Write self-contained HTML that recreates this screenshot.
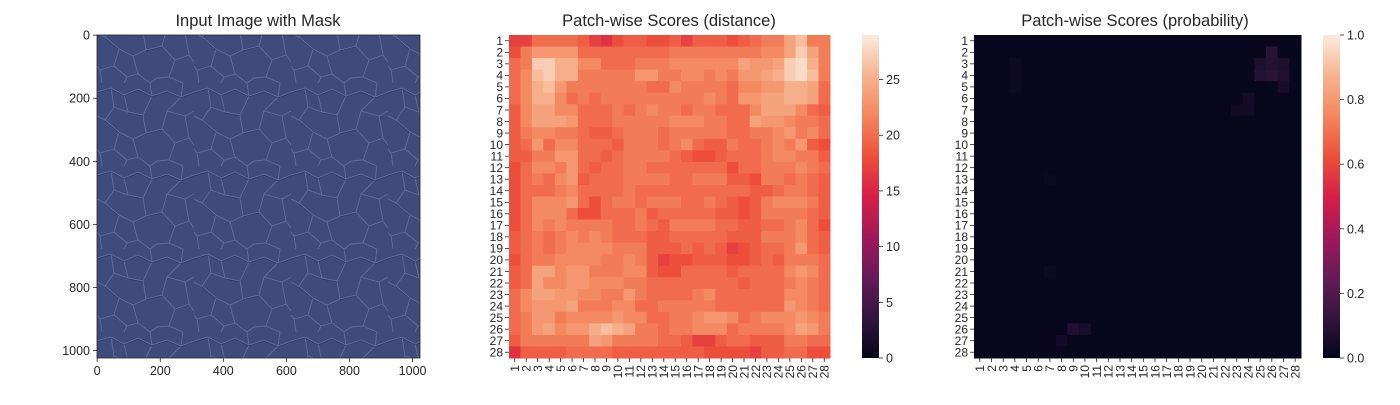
<!DOCTYPE html>
<html><head><meta charset="utf-8"><style>
body{margin:0;background:#fff;}
svg{font-family:"Liberation Sans",Arial,sans-serif;}
</style></head><body>
<svg id="c" width="1400" height="400" viewBox="0 0 1400 400">
<defs>
<pattern id="leather" width="97" height="83" patternUnits="userSpaceOnUse">
<rect width="97" height="83" fill="#3f4b7a"/>
<path d="M0 9 L14 5 L27 12 L41 6 L55 13 L70 8 L84 14 L97 9 M14 5 L17 24 L8 37 L0 33 M27 12 L31 29 L17 24 M31 29 L46 32 L55 13 M46 32 L49 50 L36 56 L22 49 L8 37 M22 49 L17 66 L3 70 L0 66 M36 56 L41 74 L53 83 M49 50 L65 46 L70 28 L84 14 M70 28 L88 33 L97 28 M65 46 L78 60 L92 55 L88 33 M78 60 L72 77 L60 78 L53 83 M92 55 L97 62 M17 66 L30 77 L41 74 M72 77 L86 83 M30 77 L27 83 M3 70 L5 83 M53 0 L55 13 M86 0 L84 14" stroke="#7886bb" stroke-width="0.9" fill="none" opacity="0.55"/>
<path d="M0 10 L14 6 L27 13 L41 7 L55 14 L70 9 L84 15 L97 10 M31 30 L46 33 M49 51 L65 47 M22 50 L8 38" stroke="#27304f" stroke-width="0.7" fill="none" opacity="0.55"/>
</pattern>
<linearGradient id="cb1" x1="0" y1="1" x2="0" y2="0"></linearGradient>
<linearGradient id="cb2" x1="0" y1="1" x2="0" y2="0"></linearGradient>
</defs>
<g id="p1">
<text x="258" y="26" text-anchor="middle" font-size="16.5" fill="#262626">Input Image with Mask</text>
<rect x="97" y="35" width="323" height="323" fill="url(#leather)"/>
<rect x="97" y="35" width="323" height="323" fill="none" stroke="#262626" stroke-width="0.8"/>
</g>
<g id="p2">
<text x="669" y="26" text-anchor="middle" font-size="16.5" fill="#262626">Patch-wise Scores (distance)</text>
</g>
<g id="p3">
<text x="1135" y="26" text-anchor="middle" font-size="16.5" fill="#262626">Patch-wise Scores (probability)</text>
</g>
</svg>
<script>
const imgTicks=[0,200,400,600,800,1000];
const imgExtent=1024;
const distCbTicks=[0,5,10,15,20,25];
const distVmax=29;
const probCbTicks=[0,0.2,0.4,0.6,0.8,1.0];
const distRows=[
[17,17,20,20,20,20,19,17,16,18,19,19,18,18,19,17,19,19,19,18,19,20,21,21,24,26,21,21],
[18,21,23,23,23,23,20,20,20,20,20,20,20,20,21,21,21,21,21,21,21,21,22,22,24,27,24,21],
[20,21,27,27,25,25,22,22,20,20,20,21,21,21,22,22,22,22,22,22,24,23,23,24,27,28,25,21],
[20,22,26,27,25,25,21,21,21,21,21,23,23,21,21,22,22,21,22,21,23,23,24,25,27,28,26,21],
[20,22,25,26,23,21,21,21,21,21,21,21,20,20,22,21,21,21,21,20,22,22,23,23,25,25,24,20],
[20,22,25,25,22,20,21,20,21,21,21,21,21,21,21,21,21,22,21,20,23,23,24,24,25,25,24,20],
[19,22,24,24,22,22,20,20,20,21,20,21,22,21,21,20,21,21,20,20,20,22,24,24,24,22,20,19],
[19,22,24,24,24,23,20,20,20,21,21,21,21,21,22,22,22,21,21,20,20,24,23,23,22,21,21,20],
[19,21,22,22,21,21,20,19,19,20,21,21,21,20,21,21,21,21,21,20,20,21,21,22,23,21,22,20],
[19,20,23,20,22,22,20,20,20,19,21,21,21,20,21,22,20,19,19,21,20,20,21,22,21,23,19,18],
[19,19,21,21,23,23,20,20,19,20,21,21,21,21,20,19,18,18,19,20,20,20,21,22,22,21,21,19],
[18,20,22,22,21,23,20,19,20,20,21,21,20,20,20,20,20,20,20,18,20,20,21,21,21,22,21,20],
[18,20,21,20,22,23,19,20,20,20,21,21,21,21,20,20,21,21,21,19,19,18,21,21,20,21,20,19],
[18,20,20,20,21,22,20,20,20,20,21,20,20,20,20,20,20,20,20,20,20,19,19,20,21,21,20,19],
[18,20,22,22,22,23,20,18,20,21,21,20,21,21,21,20,20,21,20,19,18,19,21,22,22,22,21,19],
[18,20,22,22,22,20,18,18,20,20,20,21,19,20,20,20,20,20,19,19,18,19,21,21,21,21,20,19],
[18,20,22,21,22,21,21,21,21,20,20,21,20,19,21,21,21,21,20,20,19,19,20,20,21,22,20,18],
[19,20,21,20,21,22,21,22,21,20,20,20,19,19,20,20,20,20,20,19,19,19,21,21,21,22,20,19],
[19,20,21,20,21,22,22,22,22,21,21,21,19,19,19,20,19,20,19,17,18,19,20,20,21,23,20,19],
[18,20,21,21,22,22,22,22,21,21,22,21,19,17,18,18,19,19,19,18,18,19,20,19,21,21,21,20],
[19,20,24,24,22,23,23,21,21,21,22,22,19,18,18,20,20,20,20,19,20,20,20,20,22,23,22,20],
[19,20,24,22,22,23,23,22,22,22,21,21,20,20,20,20,20,20,20,20,19,20,20,20,21,22,21,20],
[20,22,24,24,23,23,22,22,21,21,23,21,20,20,20,20,21,22,20,20,20,20,20,20,22,22,21,20],
[20,22,23,23,23,24,21,21,21,22,22,20,20,21,21,21,21,21,20,20,20,20,20,20,23,22,21,20],
[20,21,23,23,21,22,22,22,22,23,22,22,20,20,21,21,22,23,23,22,20,21,22,22,22,23,22,21],
[20,21,23,24,22,23,23,25,26,25,24,21,21,20,21,21,22,22,22,20,21,21,21,21,22,24,23,21],
[19,21,21,21,21,21,21,24,23,21,21,21,21,20,20,19,17,17,19,20,20,19,19,19,21,21,20,20],
[16,19,19,19,19,20,20,20,20,19,19,19,19,19,19,19,19,18,18,18,18,17,19,19,20,20,18,18]];
const probBase=0.012;
const probHotRows=[2,3,3,3,4,4,4,5,6,7,7,3,4,5,26,26,27,13,21];
const probHotCols=[26,25,26,27,25,26,27,27,24,24,23,4,4,4,9,10,8,7,7];
const probHotVals=[0.10,0.07,0.09,0.07,0.09,0.10,0.08,0.06,0.045,0.04,0.04,0.03,0.03,0.03,0.08,0.06,0.04,0.025,0.03];
const labels=Array.from({length:28},(_,i)=>String(i+1));

const NS='http://www.w3.org/2000/svg';
const svg=document.getElementById('c');
function mk(tag,attrs,parent){const e=document.createElementNS(NS,tag);for(const k in attrs)e.setAttribute(k,attrs[k]);(parent||svg).appendChild(e);return e;}
const stops=[[0,3,5,26],[0.125,50,22,62],[0.25,102,27,88],[0.375,161,24,90],[0.5,214,31,71],[0.625,238,80,60],[0.75,244,135,95],[0.875,246,180,143],[1,250,235,221]];
function rocket(t){t=Math.max(0,Math.min(1,t));for(let i=1;i<stops.length;i++){if(t<=stops[i][0]){const a=stops[i-1],b=stops[i],f=(t-a[0])/(b[0]-a[0]);return `rgb(${Math.round(a[1]+f*(b[1]-a[1]))},${Math.round(a[2]+f*(b[2]-a[2]))},${Math.round(a[3]+f*(b[3]-a[3]))})`;}}return 'rgb(250,235,221)';}
['cb1','cb2'].forEach(id=>{const g=document.getElementById(id);stops.forEach(s=>{mk('stop',{offset:s[0],'stop-color':rocket(s[0])},g);});});

const p1=document.getElementById('p1');
const ix0=97,iy0=35,isz=323;
const iscale=v=>(v+0.5)/imgExtent*isz;
imgTicks.forEach(v=>{
  const x=ix0+iscale(v),y=iy0+iscale(v);
  let t=mk('line',{x1:x,y1:iy0+isz,x2:x,y2:iy0+isz+4,stroke:'#262626','stroke-width':0.8},p1);
  
  let l=mk('text',{x:x,y:iy0+isz+17,'text-anchor':'middle','font-size':12.5,fill:'#262626'},p1);l.textContent=v;
  
  t=mk('line',{x1:ix0-4,y1:y,x2:ix0,y2:y,stroke:'#262626','stroke-width':0.8},p1);
  
  l=mk('text',{x:ix0-7,y:y+4.5,'text-anchor':'end','font-size':12.5,fill:'#262626'},p1);l.textContent=v;
  
});

function heatmap(parent,x0,y0,w,h,getVal,vmax,cbX,cbTicks,cbGrad,fmt){
  const cw=w/28,ch=h/28;
  for(let r=0;r<28;r++)for(let c=0;c<28;c++){
    const e=mk('rect',{x:x0+c*cw,y:y0+r*ch,width:cw+0.5,height:ch+0.5,fill:rocket(getVal(r,c)/vmax)},parent);
    
    
  }
  labels.forEach((lab,i)=>{
    const y=y0+(i+0.5)*ch,x=x0+(i+0.5)*cw;
    let t=mk('line',{x1:x0-4,y1:y,x2:x0,y2:y,stroke:'#262626','stroke-width':0.8},parent);
    
    let l=mk('text',{x:x0-6,y:y+4.3,'text-anchor':'end','font-size':12,fill:'#262626'},parent);l.textContent=lab;
    
    t=mk('line',{x1:x,y1:y0+h,x2:x,y2:y0+h+4,stroke:'#262626','stroke-width':0.8},parent);
    
    l=mk('text',{x:x+4.3,y:y0+h+7,'text-anchor':'end','font-size':12,fill:'#262626',transform:`rotate(-90 ${x+4.3} ${y0+h+7})`},parent);l.textContent=lab;
    
  });
  const cb=mk('rect',{x:cbX,y:y0,width:17,height:h,fill:`url(#${cbGrad})`},parent);
  
  cbTicks.forEach(v=>{
    const y=y0+h-v/vmax*h;
    let t=mk('line',{x1:cbX+17,y1:y,x2:cbX+21,y2:y,stroke:'#262626','stroke-width':0.8},parent);
    
    let l=mk('text',{x:cbX+24,y:y+4.5,'font-size':12.5,fill:'#262626'},parent);l.textContent=fmt(v);
    
  });
}
heatmap(document.getElementById('p2'),509,35,321,323,(r,c)=>distRows[r][c],distVmax,862,distCbTicks,'cb1',v=>String(v));
function probVal(r,c){for(let i=0;i<probHotRows.length;i++){if(probHotRows[i]===r+1&&probHotCols[i]===c+1)return probHotVals[i];}return probBase;}
heatmap(document.getElementById('p3'),974,35,327,323,probVal,1,1323,probCbTicks,'cb2',v=>v.toFixed(1));
</script>
</body></html>
